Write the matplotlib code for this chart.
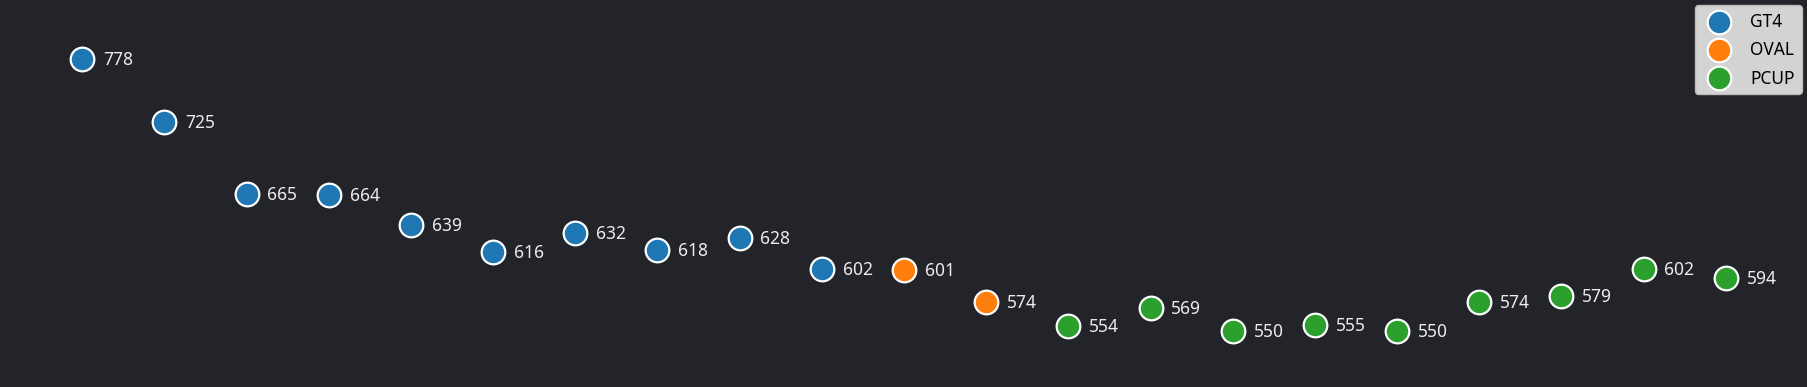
import matplotlib.pyplot as plt

plt.rcParams['font.family'] = ['Noto Sans', 'DejaVu Sans']

values = [778, 725, 665, 664, 639, 616, 632, 618, 628, 602,
          601, 574,
          554, 569, 550, 555, 550, 574, 579, 602, 594]
groups = ['GT4'] * 10 + ['OVAL'] * 2 + ['PCUP'] * 9
colors = {'GT4': '#1f77b4', 'OVAL': '#ff7f0e', 'PCUP': '#2ca02c'}

bg = '#222429'
fig = plt.figure(figsize=(18.08, 3.879), dpi=100, facecolor=bg)
ax = fig.add_axes([0, 0, 1, 1])
ax.set_facecolor(bg)

for g in ['GT4', 'OVAL', 'PCUP']:
    xs = [i for i, gg in enumerate(groups) if gg == g]
    ys = [values[i] for i in xs]
    ax.scatter(xs, ys, s=290, color=colors[g], edgecolors='white',
               linewidths=1.6, label=g, zorder=3)

for i, v in enumerate(values):
    ax.annotate(str(v), (i, v), xytext=(15, 0), textcoords='offset points',
                va='center', ha='left', color='#ececec', fontsize=12.5)

ax.set_xlim(-1, 21)
ax.set_ylim(502.8, 828.3)
ax.axis('off')

leg = ax.legend(loc='upper right', fontsize=12.5, facecolor='#d3d3d3',
                edgecolor='#bbbbbb', framealpha=1, borderaxespad=0.35,
                handletextpad=0.8, labelspacing=0.6, borderpad=0.4)
for t in leg.get_texts():
    t.set_color('black')

fig.savefig('out.png', dpi=100, facecolor=bg)
